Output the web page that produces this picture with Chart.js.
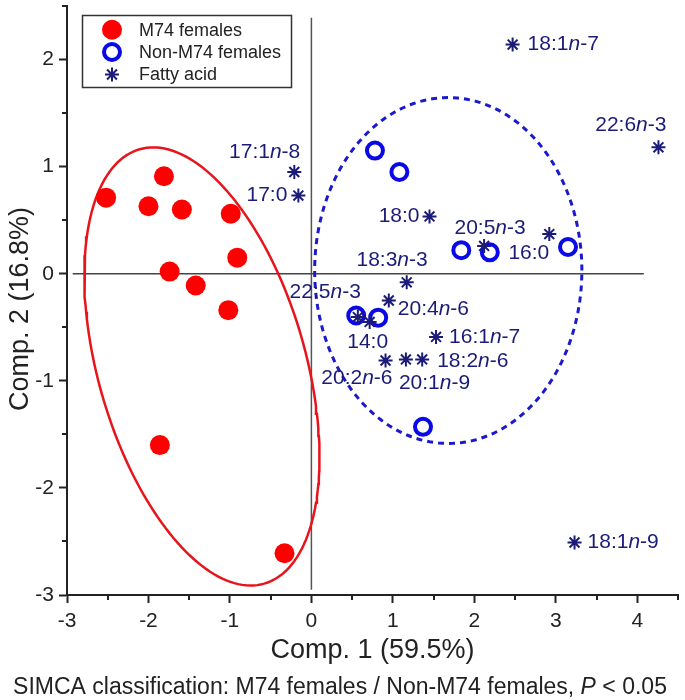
<!DOCTYPE html>
<html><head><meta charset="utf-8">
<script src="https://cdn.jsdelivr.net/npm/chart.js@4.4.1/dist/chart.umd.min.js"></script>
<style>html,body{margin:0;padding:0;background:#fff}canvas{display:block}</style>
</head><body>
<canvas id="c" width="685" height="700"></canvas>
<script>
// ---------- data ----------
const m74X = [-2.52, -1.81, -2.00, -1.59, -0.99, -0.91, -1.74, -1.42, -1.02, -1.86, -0.33];
const m74Y = [0.71, 0.91, 0.63, 0.60, 0.56, 0.15, 0.02, -0.11, -0.34, -1.60, -2.61];
const nonX = [0.78, 1.08, 1.84, 2.19, 3.15, 0.55, 0.82, 1.37];
const nonY = [1.15, 0.95, 0.22, 0.20, 0.25, -0.39, -0.41, -1.43];
const faNames = ['17:1n-8','17:0','18:0','18:3n-3','20:4n-6','22:5n-3','14:0','16:1n-7',
                 '18:2n-6','20:2n-6','20:1n-9','16:0','20:5n-3','18:1n-7','22:6n-3','18:1n-9'];
const faX = [-0.21, -0.16, 1.45, 1.17, 0.95, 0.57, 0.715, 1.53, 1.36, 0.91, 1.16, 2.92, 2.12, 2.47, 4.26, 3.23];
const faY = [0.95, 0.73, 0.535, -0.08, -0.25, -0.405, -0.45, -0.59, -0.80, -0.81, -0.80, 0.37, 0.26, 2.14, 1.18, -2.51];
// confidence ellipses: centre and two conjugate semi-axis vectors (data units)
const redEllipseCenter = [-1.344, -0.866];
const redEllipseAxisA = [0.765, -2.028];
const redEllipseAxisB = [1.224, 0.268];
const blueEllipseCenter = [1.68, 0.03];
const blueEllipseAxisA = [1.64, 0.0];
const blueEllipseAxisB = [0.0, 1.615];
// zero reference lines (extent in data units)
const hZeroX = [-2.93, 4.08];
const vZeroY = [2.39, -2.95];
const xTicksMajor = [-3, -2, -1, 0, 1, 2, 3, 4];
const yTicksMajor = [-3, -2, -1, 0, 1, 2];
const legendLabels = ['M74 females', 'Non-M74 females', 'Fatty acid'];
const xTitle = 'Comp. 1 (59.5%)';
const yTitle = 'Comp. 2 (16.8%)';
const captionText = ['SIMCA classification: M74 females / Non-M74 females, ', 'P', ' < 0.05'];

// label placement (style: anchor + pixel offset)
const labelLayout = [
  ['right', 6, -20], ['right', -11, 0], ['right', -10, 0], ['right', 21, -22],
  ['left', 9, 9], ['right', 3, -25], ['center', -2, 20], ['left', 13, 0],
  ['left', 15, 2], ['right', 7, 18], ['left', -7, 24], ['right', 0, 19],
  ['center', 6, -18], ['left', 15, 0], ['right', 8, -22], ['left', 13, 0]
];

const FONT = "'Liberation Sans', Arial, sans-serif";
const RED = '#ff0000', BLUE = '#0a0ae6', NAVY = '#1b1b78', AX = '#222222';

function ellipsePts(c, a, b) {
  const pts = [];
  for (let i = 0; i <= 180; i++) {
    const t = i / 180 * Math.PI * 2;
    pts.push({x: c[0] + a[0] * Math.cos(t) + b[0] * Math.sin(t),
              y: c[1] + a[1] * Math.cos(t) + b[1] * Math.sin(t)});
  }
  return pts;
}
const zip = (xs, ys) => xs.map((x, i) => ({x, y: ys[i]}));

function splitLabel(s) {
  const m = s.match(/^(.*?)n(-\d+)$/);
  return m ? [{t: m[1]}, {t: 'n', it: true}, {t: m[2]}] : [{t: s}];
}
function drawRich(ctx, parts, x, y, align, size, color) {
  let w = 0;
  parts.forEach(p => { ctx.font = (p.it ? 'italic ' : '') + size + 'px ' + FONT; p.w = ctx.measureText(p.t).width; w += p.w; });
  let sx = align === 'left' ? x : align === 'right' ? x - w : x - w / 2;
  ctx.textAlign = 'left'; ctx.textBaseline = 'middle'; ctx.fillStyle = color;
  parts.forEach(p => { ctx.font = (p.it ? 'italic ' : '') + size + 'px ' + FONT; ctx.fillText(p.t, sx, y); sx += p.w; });
}
function drawStar(ctx, x, y, r) {
  ctx.beginPath();
  for (let k = 0; k < 4; k++) {
    const a = k * Math.PI / 4;
    ctx.moveTo(x - r * Math.cos(a), y - r * Math.sin(a));
    ctx.lineTo(x + r * Math.cos(a), y + r * Math.sin(a));
  }
  ctx.stroke();
}

const overlay = {
  id: 'overlay',
  afterDraw(chart) {
    const ctx = chart.ctx, xs = chart.scales.x, ys = chart.scales.y;
    ctx.save();
    // minor ticks
    ctx.strokeStyle = AX; ctx.lineWidth = 2;
    for (let v = -2.5; v <= 4.5; v += 1) {
      const p = Math.round(xs.getPixelForValue(v));
      ctx.beginPath(); ctx.moveTo(p, xs.top); ctx.lineTo(p, xs.top + 5); ctx.stroke();
    }
    for (let v = -2.5; v <= 2.5; v += 1) {
      const p = Math.round(ys.getPixelForValue(v));
      ctx.beginPath(); ctx.moveTo(ys.right, p); ctx.lineTo(ys.right - 5, p); ctx.stroke();
    }
    // y-axis title
    ctx.save();
    ctx.translate(21, 309); ctx.rotate(-Math.PI / 2);
    ctx.fillStyle = AX; ctx.font = '27px ' + FONT; ctx.textAlign = 'center'; ctx.textBaseline = 'middle';
    ctx.fillText(yTitle, 0, 0);
    ctx.restore();
    // fatty-acid labels
    faNames.forEach((n, i) => {
      const px = xs.getPixelForValue(faX[i]), py = ys.getPixelForValue(faY[i]);
      const L = labelLayout[i];
      drawRich(ctx, splitLabel(n), px + L[1], py + L[2], L[0], 21, NAVY);
    });
    // legend
    const lx = 82.5, ly = 15.5, lw = 209, lh = 72;
    ctx.strokeStyle = '#333'; ctx.lineWidth = 1.5;
    ctx.strokeRect(lx, ly, lw, lh);
    const mx = 112, rows = [29.7, 52, 74.5];
    ctx.fillStyle = RED; ctx.beginPath(); ctx.arc(mx, rows[0], 10, 0, Math.PI * 2); ctx.fill();
    ctx.strokeStyle = BLUE; ctx.lineWidth = 4; ctx.beginPath(); ctx.arc(mx, rows[1], 8, 0, Math.PI * 2); ctx.stroke();
    ctx.strokeStyle = NAVY; ctx.lineWidth = 2; drawStar(ctx, mx, rows[2], 7);
    ctx.fillStyle = AX; ctx.font = '18px ' + FONT; ctx.textAlign = 'left'; ctx.textBaseline = 'middle';
    legendLabels.forEach((t, i) => ctx.fillText(t, 139, rows[i] + 1));
    // caption
    drawRich(ctx, [{t: captionText[0]}, {t: captionText[1], it: true}, {t: captionText[2]}], 340, 688, 'center', 23, AX);
    ctx.restore();
  }
};

new Chart(document.getElementById('c'), {
  type: 'scatter',
  data: {
    datasets: [
      {label: 'hzero', data: zip(hZeroX, [0, 0]), showLine: true, borderColor: '#444', borderWidth: 1.5, pointRadius: 0, order: 10},
      {label: 'vzero', data: zip([0, 0], vZeroY), showLine: true, borderColor: '#555', borderWidth: 1.5, pointRadius: 0, order: 10},
      {label: 'redEllipse', data: ellipsePts(redEllipseCenter, redEllipseAxisA, redEllipseAxisB), showLine: true,
       borderColor: '#e8141c', borderWidth: 2.5, pointRadius: 0, tension: 0, order: 9},
      {label: 'blueEllipse', data: ellipsePts(blueEllipseCenter, blueEllipseAxisA, blueEllipseAxisB), showLine: true,
       borderColor: '#1a1acc', borderWidth: 3, borderDash: [6, 5], pointRadius: 0, tension: 0, order: 9},
      {label: legendLabels[0], data: zip(m74X, m74Y), pointRadius: 10, backgroundColor: RED, borderColor: RED, borderWidth: 0, order: 3},
      {label: legendLabels[1], data: zip(nonX, nonY), pointRadius: 8, backgroundColor: 'rgba(0,0,0,0)', borderColor: BLUE, borderWidth: 4, order: 2},
      {label: legendLabels[2], data: zip(faX, faY), pointStyle: 'star', pointRadius: 7, borderColor: NAVY, borderWidth: 2, order: 1}
    ]
  },
  options: {
    responsive: false, animation: false, events: [],
    layout: {autoPadding: false, padding: {top: 6, right: 7, left: 0, bottom: 0}},
    plugins: {legend: {display: false}, tooltip: {enabled: false}},
    scales: {
      x: {
        type: 'linear', min: -3, max: 4.5,
        afterFit: s => { s.height = 105; s.paddingLeft = 0; s.paddingRight = 0; },
        afterBuildTicks: s => { s.ticks = xTicksMajor.map(v => ({value: v})); },
        ticks: {autoSkip: false, maxRotation: 0, padding: 6, color: AX, font: {family: FONT, size: 21},
                callback: v => String(v)},
        grid: {display: true, drawOnChartArea: false, drawTicks: true, tickLength: 8, tickWidth: 2, tickColor: AX},
        border: {display: true, color: AX, width: 2},
        title: {display: true, text: xTitle, color: AX, font: {family: FONT, size: 27}, padding: {top: 0, bottom: 33}}
      },
      y: {
        type: 'linear', min: -3, max: 2.5,
        afterFit: s => { s.width = 67; s.paddingTop = 0; s.paddingBottom = 0; },
        afterBuildTicks: s => { s.ticks = yTicksMajor.map(v => ({value: v})); },
        ticks: {autoSkip: false, padding: 5, color: AX, font: {family: FONT, size: 21}, callback: v => String(v)},
        grid: {display: true, drawOnChartArea: false, drawTicks: true, tickLength: 8, tickWidth: 2, tickColor: AX},
        border: {display: true, color: AX, width: 2},
        title: {display: false, text: yTitle}
      }
    }
  },
  plugins: [overlay]
});
</script>
</body></html>
